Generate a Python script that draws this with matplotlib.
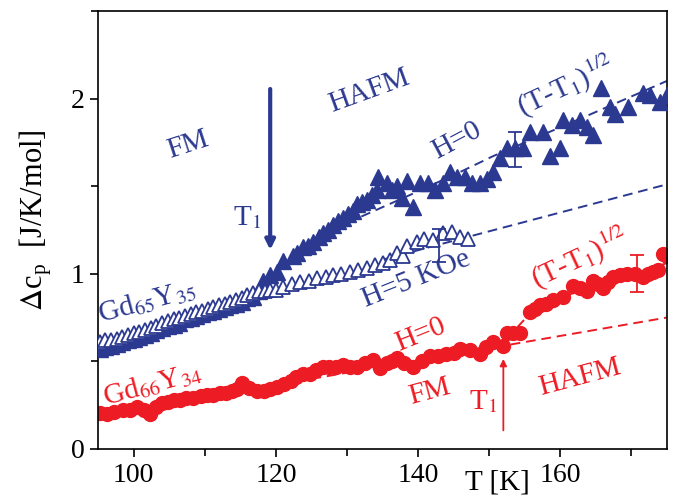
import matplotlib
matplotlib.use("Agg")
import matplotlib.pyplot as plt
from matplotlib.ticker import MultipleLocator

plt.rcParams['font.family'] = ['Liberation Serif', 'DejaVu Serif']
plt.rcParams['mathtext.fontset'] = 'stix'

blue = '#2B3990'
red = '#ED1C24'

# Gd65Y35, H=0 (filled triangles)
T_h0 = [95.2, 96.0, 96.8, 97.6, 98.4, 99.2, 100.0, 100.8, 101.6, 102.4, 103.2, 104.0,
        104.8, 105.6, 106.4, 107.2, 108.0, 108.8, 109.6, 110.4, 111.2, 112.0, 112.8,
        113.6, 114.4, 115.2, 116.0, 116.8, 117.6, 118.2, 119.2, 120.2, 121.0, 122.4,
        123.0, 123.8, 124.5, 125.2, 126.0, 126.6, 127.3, 128.0, 128.7, 129.4, 130.2,
        130.9, 131.4, 132.1, 132.8, 133.5, 134.2, 134.4, 135.6, 136.3, 137.0, 137.7,
        138.4, 139.3, 140.3, 141.4, 142.4, 143.5, 144.5, 145.5, 146.6, 147.6, 148.7,
        149.7, 150.5, 151.5, 152.5, 153.6, 154.8, 155.7, 157.6, 158.5, 160.0, 160.4,
        161.6, 162.8, 163.7, 164.6, 165.8, 167.0, 167.7, 169.5, 171.6, 172.6, 174.0,
        175.0]
cp_h0 = [0.57, 0.58, 0.59, 0.60, 0.61, 0.62, 0.63, 0.64, 0.65, 0.66, 0.68, 0.69,
         0.70, 0.71, 0.72, 0.74, 0.75, 0.76, 0.77, 0.78, 0.79, 0.80, 0.81,
         0.82, 0.83, 0.84, 0.86, 0.87, 0.90, 0.96, 0.99, 1.01, 1.07, 1.10,
         1.12, 1.15, 1.16, 1.18, 1.21, 1.23, 1.25, 1.28, 1.30, 1.32, 1.34,
         1.36, 1.40, 1.41, 1.42, 1.45, 1.48, 1.55, 1.52, 1.48, 1.50, 1.43,
         1.53, 1.38, 1.52, 1.52, 1.48, 1.52, 1.58, 1.55, 1.55, 1.52, 1.52,
         1.54, 1.58, 1.66, 1.72, 1.72, 1.72, 1.81, 1.81, 1.67, 1.72, 1.88,
         1.85, 1.88, 1.84, 1.79, 2.06, 1.95, 1.91, 1.95, 2.03, 2.02, 1.98,
         2.02]

# Gd65Y35, H=5 kOe (open triangles)
T_h5 = [95.2, 96.0, 96.8, 97.6, 98.4, 99.2, 100.0, 100.8, 101.6, 102.4, 103.2, 104.0,
        104.8, 105.6, 106.4, 107.2, 108.0, 108.8, 109.6, 110.4, 111.2, 112.0, 112.8,
        113.6, 114.4, 115.2, 116.0, 116.8, 117.6, 118.4, 119.2, 120.0, 121.0, 122.2,
        123.4, 124.6, 125.8, 127.0, 128.0, 129.2, 130.4, 131.6, 132.8, 133.9, 135.0,
        136.0, 137.0, 137.9, 138.4, 139.8, 140.9, 142.1, 143.5, 144.8, 145.9, 147.0]
cp_h5 = [0.61, 0.62, 0.62, 0.63, 0.64, 0.65, 0.66, 0.67, 0.68, 0.69, 0.70, 0.72,
         0.73, 0.74, 0.75, 0.76, 0.77, 0.78, 0.79, 0.80, 0.81, 0.82, 0.83,
         0.84, 0.85, 0.86, 0.88, 0.89, 0.90, 0.90, 0.91, 0.91, 0.925, 0.94,
         0.95, 0.96, 0.975, 0.98, 0.99, 1.00, 1.01, 1.02, 1.03, 1.05, 1.06,
         1.08, 1.12, 1.10, 1.16, 1.18, 1.20, 1.19, 1.23, 1.24, 1.21, 1.20]

# Gd66Y34, H=0 (red circles)
T_red = [95.3, 96.2, 97.2, 98.5, 99.5, 100.5, 101.4, 102.3, 103.2, 104.0, 104.8, 105.6,
         106.5, 107.4, 108.4, 109.4, 110.3, 111.2, 112.1, 113.0, 113.8, 114.5, 115.2,
         116.2, 117.3, 118.3, 119.2, 120.2, 121.2, 122.1, 122.9, 123.8, 124.8, 125.7,
         126.6, 127.5, 128.5, 129.4, 130.4, 131.4, 132.5, 133.7, 134.6, 135.6, 136.3,
         137.0, 138.0, 139.3, 140.5, 141.7, 142.8, 144.0, 145.0, 145.9, 147.3, 148.7,
         149.6, 150.5, 151.9, 152.5, 153.4, 154.3, 155.7, 156.4, 157.1, 158.0, 159.0,
         160.4, 161.8, 162.8, 163.7, 164.6, 165.3, 166.0, 166.7, 167.4, 168.4, 169.4,
         170.5, 171.6, 172.3, 173.0, 173.7, 174.4, 175.0]
cp_red = [0.205, 0.20, 0.21, 0.22, 0.22, 0.24, 0.22, 0.20, 0.24, 0.26, 0.27, 0.28,
          0.28, 0.29, 0.29, 0.30, 0.31, 0.31, 0.32, 0.32, 0.33, 0.34, 0.375,
          0.35, 0.33, 0.33, 0.34, 0.355, 0.37, 0.39, 0.41, 0.43, 0.43, 0.45,
          0.47, 0.47, 0.47, 0.48, 0.47, 0.47, 0.49, 0.51, 0.46, 0.49, 0.50,
          0.52, 0.49, 0.47, 0.50, 0.53, 0.53, 0.54, 0.55, 0.57, 0.565, 0.54,
          0.58, 0.61, 0.59, 0.66, 0.66, 0.66, 0.78, 0.80, 0.82, 0.83, 0.85,
          0.87, 0.93, 0.92, 0.90, 0.96, 0.94, 0.92, 0.95, 0.98, 0.99, 1.00,
          1.00, 0.98, 1.00, 1.01, 1.02, 1.11, 1.10]

# fit curves
T_fit_h0 = [126.0, 130.0, 138.9, 145.9, 150.5, 163.7, 175.0]
cp_fit_h0 = [1.22, 1.29, 1.45, 1.58, 1.67, 1.90, 2.10]
T_fit_h5 = [135.0, 147.0, 175.0]
cp_fit_h5 = [1.08, 1.21, 1.51]
T_fit_red = [152.5, 155.0, 160.0, 165.0, 170.0, 175.0]
cp_fit_red = [0.63, 0.74, 0.86, 0.94, 1.00, 1.06]
T_lin_red = [125.0, 175.0]
cp_lin_red = [0.40, 0.75]

# error bars (T, cp, err)
err_h0 = (153.6, 1.71, 0.10)
err_h5 = (143.0, 1.16, 0.095)
err_red = (170.8, 1.00, 0.105)

fig = plt.figure(figsize=(6.77, 4.95), dpi=100)
ax = fig.add_axes([0.145, 0.093, 0.840, 0.885])

dash = (0, (5, 3))
ax.plot(T_lin_red, cp_lin_red, color=red, lw=1.4, ls=dash, zorder=1)
ax.plot(T_fit_red, cp_fit_red, color=red, lw=1.4, ls=dash, zorder=1)
ax.plot(T_fit_h0, cp_fit_h0, color=blue, lw=1.4, ls=dash, zorder=1)
ax.plot(T_fit_h5, cp_fit_h5, color=blue, lw=1.4, ls=dash, zorder=1)

ax.plot(T_red, cp_red, 'o', color=red, ms=10, mec=red, zorder=2)
ax.plot(T_h0, cp_h0, '^', color=blue, ms=11, mec=blue, zorder=3)
ax.plot(T_h5, cp_h5, '^', mfc='white', mec=blue, mew=1.3, ms=10, zorder=4)

for (t, c, e), col in [(err_h0, blue), (err_h5, blue), (err_red, red)]:
    ax.errorbar([t], [c], yerr=[e], fmt='none', ecolor=col, elinewidth=1.3,
                capsize=5, capthick=1.3, zorder=5)

# T1 arrows
ax.annotate('', xy=(119.2, 1.12), xytext=(119.2, 2.07),
            arrowprops=dict(arrowstyle='-|>', lw=3, color=blue, mutation_scale=14))
ax.annotate('', xy=(152.0, 0.53), xytext=(152.0, 0.09),
            arrowprops=dict(arrowstyle='-|>', lw=1.3, color=red, mutation_scale=10))

fs = 21
ax.text(107.7, 1.735, 'FM', color=blue, fontsize=fs, rotation=18, ha='center', va='center')
ax.text(133.2, 2.04, 'HAFM', color=blue, fontsize=fs, rotation=20, ha='center', va='center')
ax.text(116.0, 1.32, 'T$_1$', color=blue, fontsize=fs, ha='center', va='center')
ax.text(145.5, 1.76, 'H=0', color=blue, fontsize=fs, rotation=28, ha='center', va='center')
ax.text(160.8, 2.07, '(T-T$_1$)$^{1/2}$', color=blue, fontsize=fs, rotation=25,
        ha='center', va='center')
ax.text(101.8, 0.84, 'Gd$_{65}$Y$_{35}$', color=blue, fontsize=fs, rotation=15,
        ha='center', va='center')
ax.text(139.8, 0.97, 'H=5 KOe', color=blue, fontsize=fs, rotation=22, ha='center', va='center')
ax.text(102.6, 0.365, 'Gd$_{66}$Y$_{34}$', color=red, fontsize=fs, rotation=15,
        ha='center', va='center')
ax.text(140.3, 0.65, 'H=0', color=red, fontsize=fs, rotation=22, ha='center', va='center')
ax.text(141.7, 0.325, 'FM', color=red, fontsize=fs, rotation=15, ha='center', va='center')
ax.text(149.2, 0.27, 'T$_1$', color=red, fontsize=fs, ha='center', va='center')
ax.text(162.8, 1.09, '(T-T$_1$)$^{1/2}$', color=red, fontsize=fs, rotation=25,
        ha='center', va='center')
ax.text(162.8, 0.41, 'HAFM', color=red, fontsize=fs, rotation=15, ha='center', va='center')

ax.set_xlim(95, 175)
ax.set_ylim(0, 2.5)
ax.xaxis.set_major_locator(MultipleLocator(20))
ax.xaxis.set_minor_locator(MultipleLocator(10))
ax.yaxis.set_major_locator(MultipleLocator(1))
ax.yaxis.set_minor_locator(MultipleLocator(0.5))
ax.tick_params(which='both', direction='out', top=False, right=False,
               labelsize=20, width=1.2, pad=4)
ax.tick_params(which='major', length=6)
ax.tick_params(which='minor', length=5)
for s in ax.spines.values():
    s.set_linewidth(1.2)

fig.text(497 / 677, 1 - 483 / 495, 'T [K]', fontsize=21, ha='center', va='center')
fig.text(36 / 677, 1 - 220 / 495, r'$\Delta$c$_\mathregular{p}$  [J/K/mol]', fontsize=22,
         rotation=90, ha='center', va='center')

fig.savefig('out.png', dpi=100)
